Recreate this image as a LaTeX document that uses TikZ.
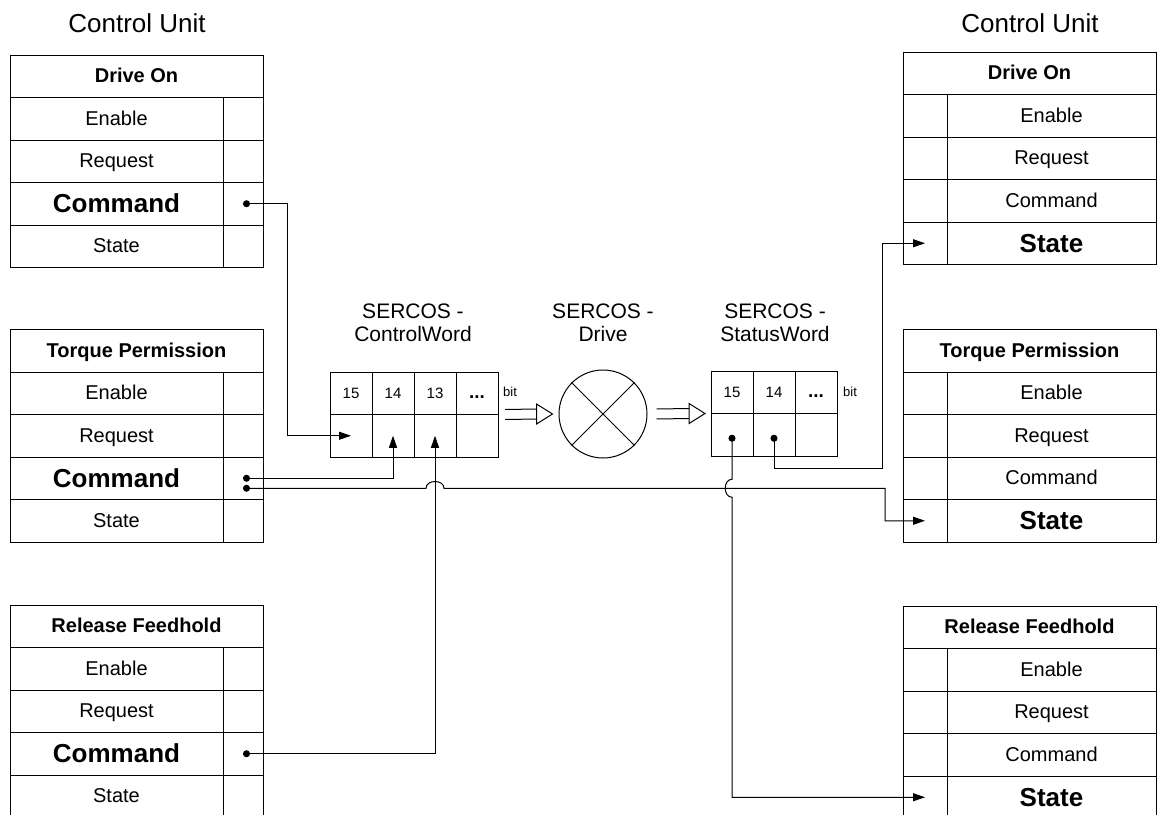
\documentclass[tikz,border=0pt]{standalone}
\usepackage{fontspec}
\setmainfont{Liberation Sans}
\usetikzlibrary{arrows.meta,positioning,calc}

\tikzset{
  tcell/.style={draw, line width=1pt, inner sep=0pt, outer sep=0pt, minimum height=42.5pt},
  hdr/.style={tcell, minimum width=253pt, font=\fontsize{20}{24}\selectfont\bfseries, text height=14.3pt, text depth=1pt},
  rowtxt/.style={font=\fontsize{20}{24}\selectfont, text height=14.3pt, text depth=1pt},
  rowbold/.style={font=\fontsize{26}{30}\selectfont\bfseries, text height=18.6pt, text depth=1pt},
  lbl/.style={tcell, minimum width=213pt},
  port/.style={tcell, minimum width=40pt},
  rlbl/.style={tcell, minimum width=209pt},
  rport/.style={tcell, minimum width=44pt},
  unitlbl/.style={font=\fontsize{26}{30}\selectfont, text height=18.6pt, text depth=0pt, inner sep=0pt},
  wordlbl/.style={align=center, font=\fontsize{21}{23}\selectfont, inner sep=0pt},
  bitcell/.style={tcell, minimum width=42pt, font=\fontsize{15}{17}\selectfont, text height=10.7pt, text depth=0pt},
  dotcell/.style={bitcell, font=\fontsize{19}{21}\selectfont\bfseries},
  bitnote/.style={font=\fontsize{13}{15}\selectfont, inner sep=0pt},
  link/.style={line width=1pt, {Circle[length=7pt]}-{Triangle[length=12pt,width=8pt]}},
}

\newcommand{\lefttable}[3]{%
  \node[hdr, anchor=north west] (#1-hd) at (#2) {#3};
  \foreach \key/\txt/\sty [count=\i] in {en/Enable/rowtxt, rq/Request/rowtxt, cmd/Command/rowbold, st/State/rowtxt}{
    \node[lbl, \sty, anchor=north west] (#1-\key) at ([yshift={-(\i-1)*42.5pt}]#1-hd.south west) {\txt};
    \node[port, right=0pt of #1-\key] (#1-\key-p) {};
  }
}
\newcommand{\righttable}[3]{%
  \node[hdr, anchor=north west] (#1-hd) at (#2) {#3};
  \foreach \key/\txt/\sty [count=\i] in {en/Enable/rowtxt, rq/Request/rowtxt, cmd/Command/rowtxt, st/State/rowbold}{
    \node[rport, anchor=north west] (#1-\key-p) at ([yshift={-(\i-1)*42.5pt}]#1-hd.south west) {};
    \node[rlbl, \sty, right=0pt of #1-\key-p] (#1-\key) {\txt};
  }
}
\newcommand{\hollowarrow}[2]{%
  \draw[line width=1pt] ([yshift=5pt]#1) -- ([shift={(-16pt,5pt)}]#2)
        ([yshift=-5pt]#1) -- ([shift={(-16pt,-5pt)}]#2);
  \draw[line width=1pt] ([shift={(-16pt,10pt)}]#2) -- (#2) -- ([shift={(-16pt,-10pt)}]#2) -- cycle;
}

\begin{document}
\begin{tikzpicture}[x=1pt, y=-1pt]
\useasboundingbox (0,0) rectangle (1162,814);

\node[unitlbl] (cuLeft) at (137,23) {Control Unit};
\node[unitlbl] (cuRight) at (1030,23) {Control Unit};

\lefttable{lDrive}{10,55}{Drive On}
\lefttable{lTorque}{10,329.5}{Torque Permission}
\lefttable{lFeed}{10,605}{Release Feedhold}
\righttable{rDrive}{903,52}{Drive On}
\righttable{rTorque}{903,329.5}{Torque Permission}
\righttable{rFeed}{903,606}{Release Feedhold}

\node[wordlbl] (cwTitle) at (413,323) {SERCOS -\\ControlWord};
\node[wordlbl] (drvTitle) at (603,323) {SERCOS -\\Drive};
\node[wordlbl] (swTitle) at (775,323) {SERCOS -\\StatusWord};

\node[bitcell, anchor=north west] (cw15) at (330,372) {15};
\node[bitcell, right=0pt of cw15] (cw14) {14};
\node[bitcell, right=0pt of cw14] (cw13) {13};
\node[dotcell, right=0pt of cw13] (cwdots) {...};
\foreach \b in {15,14,13,dots}
  \node[bitcell, below=0pt of cw\b] (cw\b b) {};
\node[bitnote, anchor=base west] (cwBit) at (503,396) {bit};

\node[bitcell, anchor=north west] (sw15) at (711,371) {15};
\node[bitcell, right=0pt of sw15] (sw14) {14};
\node[dotcell, right=0pt of sw14] (swdots) {...};
\foreach \b in {15,14,dots}
  \node[bitcell, below=0pt of sw\b] (sw\b b) {};
\node[bitnote, anchor=base west] (swBit) at (843,396) {bit};

\node[draw, circle, line width=1pt, minimum size=88pt, inner sep=0pt] (drv) at (603,414) {};
\draw[line width=1pt] (drv.north west) -- (drv.south east) (drv.north east) -- (drv.south west);

\coordinate (da1s) at ([xshift=7pt]cwdots.south east);
\coordinate (da1e) at ([xshift=-6pt]drv.west);
\coordinate (da2s) at ([xshift=9pt]drv.east);
\coordinate (da2e) at ([xshift=-6pt]sw15.south west);
\hollowarrow{da1s}{da1e}
\hollowarrow{da2s}{da2e}

\coordinate (tq2) at ([yshift=-10pt]lTorque-cmd-p.center);
\coordinate (hop1) at (tq2 -| cw13b.center);
\coordinate (hop2) at (sw15b.center |- tq2);
\coordinate (tqturn) at ([xshift=-40pt]rTorque-st-p.center);
\coordinate (stturn) at ([xshift=-43pt]rDrive-st-p.center);

\draw[link] (lDrive-cmd-p.center) -- ++(44,0) |- (cw15b.center);
\draw[link] (lTorque-cmd-p.center) -| (cw14b.center);
\draw[link] (lFeed-cmd-p.center) -| (cw13b.center);
\draw[link] (tq2) -- ([xshift=-9pt]hop1) .. controls +(0,-9) and +(0,-9) .. ([xshift=9pt]hop1) -| (tqturn) -- (rTorque-st-p.center);
\draw[link] (sw15b.center) -- ([yshift=9pt]hop2) .. controls +(-9,0) and +(-9,0) .. ([yshift=-9pt]hop2) |- (rFeed-st-p.center);
\draw[link] (sw14b.center) -- ++(0,34) -| (stturn) -- (rDrive-st-p.center);
\end{tikzpicture}
\end{document}
